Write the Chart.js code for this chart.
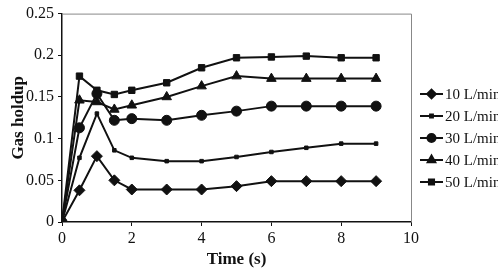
<!DOCTYPE html>
<html lang="en">
<head>
    <meta charset="UTF-8">
    <title>Gas holdup</title>
    <script src="https://cdn.jsdelivr.net/npm/chart.js"></script>
    <style>
        body {
            margin: 0;
            background: #fff;
        }
        #wrap {
            width: 498px;
            height: 270px;
        }
    </style>
</head>
<body>
    <div id="wrap">
        <canvas id="myChart" width="498" height="270"></canvas>
    </div>
    <script>
        const times = [0, 0.5, 1, 1.5, 2, 3, 4, 5, 6, 7, 8, 9];
        const labels = ['10 L/min', '20 L/min', '30 L/min', '40 L/min', '50 L/min'];
        const flow10 = [0, 0.038, 0.079, 0.050, 0.039, 0.039, 0.039, 0.043, 0.049, 0.049, 0.049, 0.049];
        const flow20 = [0, 0.077, 0.130, 0.086, 0.077, 0.073, 0.073, 0.078, 0.084, 0.089, 0.094, 0.094];
        const flow30 = [0, 0.113, 0.154, 0.122, 0.124, 0.122, 0.128, 0.133, 0.139, 0.139, 0.139, 0.139];
        const flow40 = [0, 0.146, 0.144, 0.135, 0.140, 0.150, 0.163, 0.175, 0.172, 0.172, 0.172, 0.172];
        const flow50 = [0, 0.175, 0.158, 0.153, 0.158, 0.167, 0.185, 0.197, 0.198, 0.199, 0.197, 0.197];
        const series = [flow10, flow20, flow30, flow40, flow50];

        const markers = [
            { style: 'rectRot', radius: 5.5 },
            { style: 'rect', radius: 2.5 },
            { style: 'circle', radius: 5 },
            { style: 'triangle', radius: 5.5 },
            { style: 'rect', radius: 4.5 }
        ];

        const serif = "'Liberation Serif', 'Times New Roman', serif";

        const datasets = series.map((vals, i) => ({
            label: labels[i],
            data: vals.map((v, k) => ({ x: times[k], y: v })),
            showLine: true,
            borderColor: '#111',
            backgroundColor: '#111',
            borderWidth: 2,
            pointStyle: markers[i].style,
            pointRadius: markers[i].radius,
            pointBorderWidth: 1,
            tension: 0
        }));

        // grey frame round the plot and a line+marker legend on the right
        const framePlugin = {
            id: 'frame',
            beforeDatasetsDraw(chart) {
                const a = chart.chartArea;
                const c = chart.ctx;
                c.save();
                c.strokeStyle = '#888';
                c.lineWidth = 1;
                c.beginPath();
                c.moveTo(a.left, a.top + 0.5);
                c.lineTo(a.right + 0.5, a.top + 0.5);
                c.lineTo(a.right + 0.5, a.bottom);
                c.stroke();
                c.restore();
            },
            afterDraw(chart) {
                const c = chart.ctx;
                c.save();
                chart.data.datasets.forEach((ds, i) => {
                    const y = 94 + i * 22;
                    c.strokeStyle = '#111';
                    c.lineWidth = 2;
                    c.beginPath();
                    c.moveTo(420, y);
                    c.lineTo(443, y);
                    c.stroke();
                    c.fillStyle = '#111';
                    if (Chart.helpers && Chart.helpers.drawPoint) {
                        Chart.helpers.drawPoint(c, {
                            pointStyle: ds.pointStyle,
                            radius: ds.pointRadius * 0.8,
                            rotation: 0,
                            borderWidth: 1
                        }, 431.5, y);
                    }
                    c.fillStyle = '#111';
                    c.font = '15px ' + serif;
                    c.textBaseline = 'middle';
                    c.textAlign = 'left';
                    c.fillText(ds.label, 445, y + 1);
                });
                c.restore();
            }
        };

        const ctx = document.getElementById('myChart').getContext('2d');
        const myChart = new Chart(ctx, {
            type: 'scatter',
            data: { datasets: datasets },
            plugins: [framePlugin],
            options: {
                responsive: false,
                animation: false,
                layout: { padding: { top: 7, right: 87, left: 0, bottom: 0 } },
                plugins: {
                    legend: { display: false },
                    tooltip: { enabled: false }
                },
                scales: {
                    x: {
                        type: 'linear',
                        min: 0,
                        max: 10,
                        ticks: {
                            stepSize: 2,
                            color: '#111',
                            padding: 3,
                            font: { family: serif, size: 16 }
                        },
                        grid: {
                            drawOnChartArea: false,
                            drawTicks: true,
                            tickLength: 4,
                            color: '#111'
                        },
                        border: { color: '#111', width: 1.5 },
                        title: {
                            display: true,
                            text: 'Time (s)',
                            color: '#111',
                            padding: { top: 0, bottom: 0 },
                            font: { family: serif, size: 17, weight: 'bold' }
                        },
                        afterFit(scale) { scale.height = 48; }
                    },
                    y: {
                        min: 0,
                        max: 0.25,
                        ticks: {
                            stepSize: 0.05,
                            color: '#111',
                            padding: 4,
                            font: { family: serif, size: 16 },
                            callback: value => String(Number(value.toFixed(2)))
                        },
                        grid: {
                            drawOnChartArea: false,
                            drawTicks: true,
                            tickLength: 4,
                            color: '#111'
                        },
                        border: { color: '#111', width: 1.5 },
                        title: {
                            display: true,
                            text: 'Gas holdup',
                            color: '#111',
                            padding: { top: 8, bottom: 0 },
                            font: { family: serif, size: 17, weight: 'bold' }
                        },
                        afterFit(scale) { scale.width = 62; }
                    }
                }
            }
        });
    </script>
</body>
</html>
